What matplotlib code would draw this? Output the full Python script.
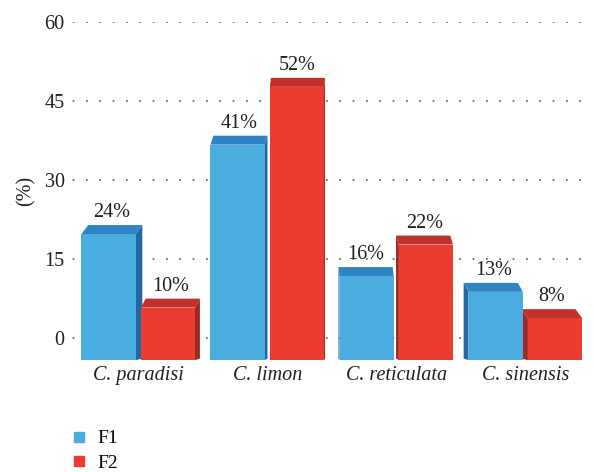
import numpy as np
import matplotlib
matplotlib.use('Agg')
import matplotlib.pyplot as plt
from matplotlib.patches import Polygon
from matplotlib.lines import Line2D

categories = ['C. paradisi', 'C. limon', 'C. reticulata', 'C. sinensis']
f1_values = [24, 41, 16, 13]
f2_values = [10, 52, 22, 8]
series_names = ['F1', 'F2']
y_ticks = [0, 15, 30, 45, 60]

front = {'F1': '#4AADE0', 'F2': '#EC3B31'}
top = {'F1': '#2F84C6', 'F2': '#C2302B'}
side = {'F1': '#2467A0', 'F2': '#9E2924'}

plt.rcParams['font.family'] = ['Liberation Serif', 'DejaVu Serif']

fig = plt.figure(figsize=(5.94, 4.72), dpi=100)
ax = fig.add_axes([0.111, 0.237, 0.869, 0.716])

x = np.arange(len(categories))
width = 0.42
gap = 0.04
vanish = 1.5
depth_y = 1.7
floor = -4.3   # the 3D floor sits in front of (below) the zero gridline

for name, vals, off in [('F1', f1_values, -(width + gap) / 2),
                        ('F2', f2_values, (width + gap) / 2)]:
    bars = ax.bar(x + off, vals, width, bottom=floor, color=front[name],
                  zorder=3, edgecolor='none')
    for b, v in zip(bars, vals):
        x0 = b.get_x()
        x1 = x0 + b.get_width()
        yt = floor + v
        xc = (x0 + x1) / 2
        dx = (vanish - xc) * 0.03
        # top face
        ax.add_patch(Polygon([(x0, yt), (x1, yt), (x1 + dx, yt + depth_y),
                              (x0 + dx, yt + depth_y)], closed=True,
                             color=top[name], zorder=2.9, lw=0))
        # side face
        sx = x1 if dx > 0 else x0
        ax.add_patch(Polygon([(sx, floor), (sx, yt), (sx + dx, yt + depth_y),
                              (sx + dx, floor + 0.3)], closed=True,
                             color=side[name], zorder=2.8, lw=0))
        ax.annotate(f'{v}%', (xc + dx / 2, yt + depth_y), xytext=(0, 2),
                    textcoords='offset points', ha='center', va='bottom',
                    fontsize=14.5, color='#231F20', zorder=5)

ax.set_xlim(-0.56, 3.44)
ax.set_ylim(floor, 60)
ax.set_yticks(y_ticks)
ax.set_yticklabels([str(t) for t in y_ticks], fontsize=14.5, color='#231F20')
ax.set_xticks(x)
ax.set_xticklabels(categories, fontsize=14.5, style='italic', color='#231F20')
ax.tick_params(axis='both', length=0)
ax.tick_params(axis='x', pad=4)
ax.tick_params(axis='y', pad=1)
for s in ax.spines.values():
    s.set_visible(False)
ax.yaxis.grid(True, linestyle=(4, (1, 7)), color='#555555', linewidth=1.2,
              zorder=0)
ax.set_axisbelow(True)
ax.set_ylabel('(%)', fontsize=14.5, color='#231F20', labelpad=6)

handles = [Line2D([], [], marker='s', linestyle='none', markersize=7.5,
                  color=front[n]) for n in series_names]
fig.legend(handles, series_names, loc='upper left',
           bbox_to_anchor=(0.097, 0.11), frameon=False, fontsize=14,
           handletextpad=0.35, labelspacing=0.35, borderpad=0,
           handlelength=1.2)

fig.savefig('out.png', dpi=100)
